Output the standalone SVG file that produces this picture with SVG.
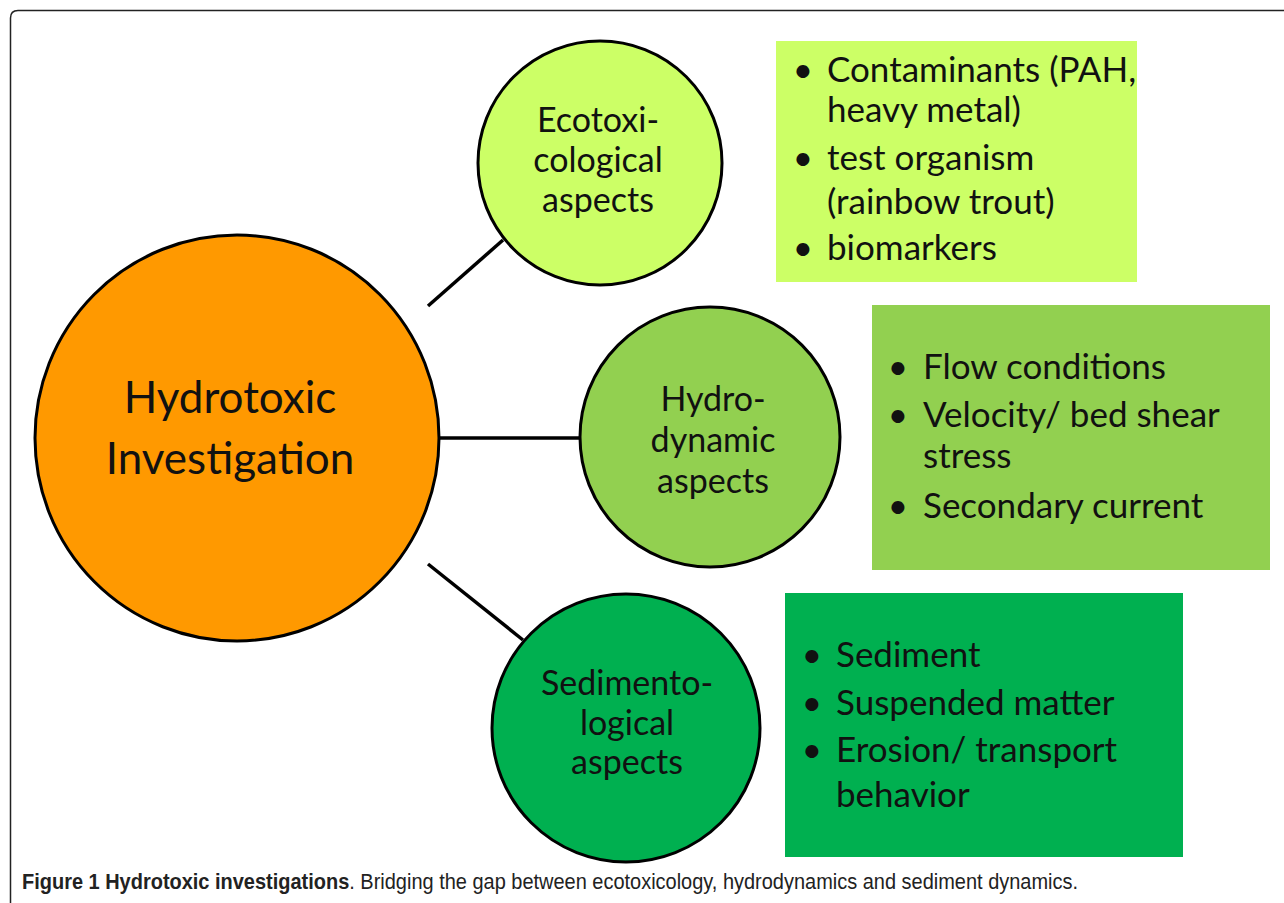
<svg xmlns="http://www.w3.org/2000/svg" width="1284" height="903" viewBox="0 0 1284 903">
<style>
.lbl{font-family:Lato,"Open Sans","Liberation Sans",sans-serif;font-size:34px;fill:#111;text-anchor:middle}
.hub{font-size:44px}
.item{font-family:Lato,"Open Sans","Liberation Sans",sans-serif;font-size:35px;fill:#111}
.bul{text-anchor:middle}
.node{stroke:#000;stroke-width:3}
.conn line{stroke:#000;stroke-width:3.5}
.cap{font-family:"Liberation Sans",Arial,sans-serif;font-size:22px;fill:#222}
</style>
<rect width="1284" height="903" fill="#fff"/>
<path d="M10.5 903 V18 Q10.5 10.5 18 10.5 H1284" fill="none" stroke="#222" stroke-width="1.5"/>
<g id="connectors" class="conn">
<line x1="428" y1="306" x2="503" y2="240"/>
<line x1="440" y1="438" x2="582" y2="438"/>
<line x1="428" y1="564" x2="523" y2="640"/>
</g>
<g id="hub">
<ellipse class="node" cx="237" cy="438" rx="202" ry="203" fill="#FF9900"/>
<text class="lbl hub" x="230" y="413">Hydrotoxic</text>
<text class="lbl hub" x="230" y="474">Investigation</text>
</g>
<g id="ecotox">
<circle class="node" cx="600" cy="163" r="122" fill="#CCFF66"/>
<text class="lbl" x="598" y="132">Ecotoxi-</text>
<text class="lbl" x="598" y="172">cological</text>
<text class="lbl" x="598" y="212">aspects</text>
</g>
<g id="hydro">
<circle class="node" cx="710" cy="437" r="130" fill="#92D050"/>
<text class="lbl" x="713" y="411">Hydro-</text>
<text class="lbl" x="713" y="452">dynamic</text>
<text class="lbl" x="713" y="493">aspects</text>
</g>
<g id="sediment">
<circle class="node" cx="626" cy="728" r="134" fill="#00B050"/>
<text class="lbl" x="627" y="695">Sedimento-</text>
<text class="lbl" x="627" y="735">logical</text>
<text class="lbl" x="627" y="774">aspects</text>
</g>
<g id="box-ecotox">
<rect x="776" y="41" width="361" height="241" fill="#CCFF66"/>
<text class="item bul" x="803" y="82">•</text>
<text class="item" x="827" y="82">Contaminants (PAH,</text>
<text class="item" x="827" y="122">heavy metal)</text>
<text class="item bul" x="803" y="170">•</text>
<text class="item" x="827" y="170">test organism</text>
<text class="item" x="827" y="214">(rainbow trout)</text>
<text class="item bul" x="803" y="260">•</text>
<text class="item" x="827" y="260">biomarkers</text>
</g>
<g id="box-hydro">
<rect x="872" y="305" width="398" height="265" fill="#92D050"/>
<text class="item bul" x="898" y="379">•</text>
<text class="item" x="923" y="379">Flow conditions</text>
<text class="item bul" x="898" y="427">•</text>
<text class="item" x="923" y="427">Velocity/ bed shear</text>
<text class="item" x="923" y="468">stress</text>
<text class="item bul" x="898" y="518">•</text>
<text class="item" x="923" y="518">Secondary current</text>
</g>
<g id="box-sediment">
<rect x="785" y="593" width="398" height="264" fill="#00B050"/>
<text class="item bul" x="812" y="667">•</text>
<text class="item" x="836" y="667">Sediment</text>
<text class="item bul" x="812" y="715">•</text>
<text class="item" x="836" y="715">Suspended matter</text>
<text class="item bul" x="812" y="762">•</text>
<text class="item" x="836" y="762">Erosion/ transport</text>
<text class="item" x="836" y="807">behavior</text>
</g>
<text id="caption" class="cap" x="22" y="889" textLength="1056" lengthAdjust="spacingAndGlyphs"><tspan font-weight="bold">Figure 1 Hydrotoxic investigations</tspan>. Bridging the gap between ecotoxicology, hydrodynamics and sediment dynamics.</text>
</svg>
